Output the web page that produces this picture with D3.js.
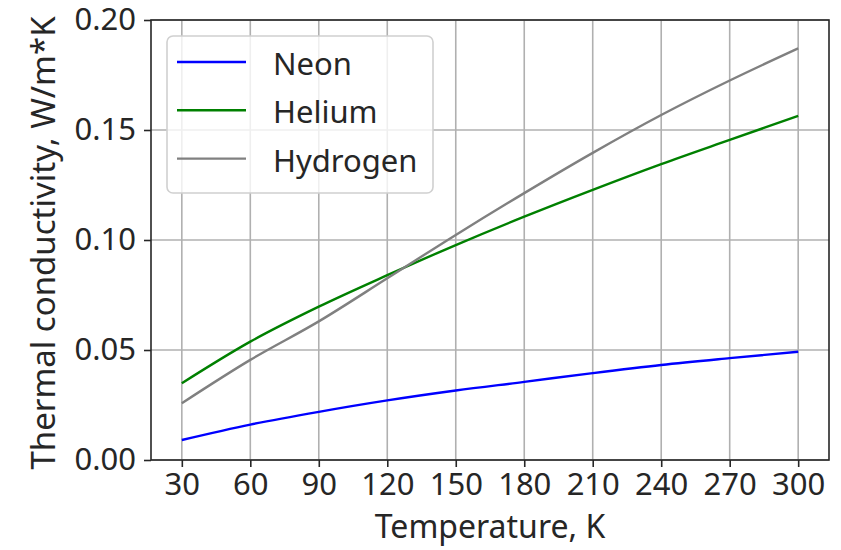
<!DOCTYPE html>
<html>
<head>
<meta charset="utf-8">
<script src="https://cdn.jsdelivr.net/npm/d3@7"></script>
<style>
  body { margin: 0; background: #fff; }
  text { font-family: "Noto Sans", "Open Sans", sans-serif; fill: #262626; }
</style>
</head>
<body>
<div id="chart"></div>
<script>
// data
var temps = [30, 60, 90, 120, 150, 180, 210, 240, 270, 300];
var neon = [0.0091, 0.0161, 0.0219, 0.0271, 0.0316, 0.0355, 0.0395, 0.0432, 0.0463, 0.0492];
var helium = [0.0349, 0.0538, 0.0697, 0.0840, 0.0977, 0.1106, 0.1228, 0.1345, 0.1455, 0.1564];
var hydrogen = [0.0258, 0.0455, 0.0630, 0.0826, 0.1023, 0.1213, 0.1396, 0.1568, 0.1725, 0.1871];
var seriesNames = ["Neon", "Helium", "Hydrogen"];
var xTicks = [30, 60, 90, 120, 150, 180, 210, 240, 270, 300];
var yTicks = [0, 0.05, 0.10, 0.15, 0.20];

var width = 841;
var height = 550;
var plot = { left: 151, right: 829, top: 20, bottom: 460 };
var fontSize = "31px";

var series = [
  { name: seriesNames[0], values: neon, color: "#0000ff" },
  { name: seriesNames[1], values: helium, color: "#008000" },
  { name: seriesNames[2], values: hydrogen, color: "#808080" }
];

var svg = d3.select("#chart").append("svg")
  .attr("width", width)
  .attr("height", height);

// matplotlib style 5% margin on x
var x = d3.scaleLinear().domain([16.5, 313.5]).range([plot.left, plot.right]);
var y = d3.scaleLinear().domain([0, 0.2]).range([plot.bottom, plot.top]);

// grid
svg.append("g").selectAll("line")
  .data(xTicks)
  .enter().append("line")
  .attr("x1", function(d) { return x(d); })
  .attr("x2", function(d) { return x(d); })
  .attr("y1", plot.top).attr("y2", plot.bottom)
  .attr("stroke", "#b0b0b0").attr("stroke-width", 1.6);

svg.append("g").selectAll("line")
  .data(yTicks)
  .enter().append("line")
  .attr("x1", plot.left).attr("x2", plot.right)
  .attr("y1", function(d) { return y(d); })
  .attr("y2", function(d) { return y(d); })
  .attr("stroke", "#b0b0b0").attr("stroke-width", 1.6);

// lines
var line = d3.line()
  .x(function(d, i) { return x(temps[i]); })
  .y(function(d) { return y(d); })
  .curve(d3.curveMonotoneX);

svg.append("g").selectAll("path")
  .data(series)
  .enter().append("path")
  .attr("d", function(d) { return line(d.values); })
  .attr("fill", "none")
  .attr("stroke", function(d) { return d.color; })
  .attr("stroke-width", 2.4);

// axes
var xAxis = d3.axisBottom(x).tickValues(xTicks).tickSize(7).tickPadding(6).tickFormat(d3.format("d"));
var yAxis = d3.axisLeft(y).tickValues(yTicks).tickSize(7).tickPadding(8).tickFormat(d3.format(".2f"));

var gx = svg.append("g").attr("transform", "translate(0," + plot.bottom + ")").call(xAxis);
var gy = svg.append("g").attr("transform", "translate(" + plot.left + ",0)").call(yAxis);
[gx, gy].forEach(function(g) {
  g.select(".domain").remove();
  g.selectAll("line").attr("stroke", "#262626").attr("stroke-width", 1.6);
  g.selectAll("text").style("font-family", "'Noto Sans', sans-serif")
    .style("font-size", fontSize).attr("fill", "#262626");
});

// frame
svg.append("rect")
  .attr("x", plot.left).attr("y", plot.top)
  .attr("width", plot.right - plot.left).attr("height", plot.bottom - plot.top)
  .attr("fill", "none").attr("stroke", "#262626").attr("stroke-width", 1.6);

// axis labels
svg.append("text")
  .attr("x", (plot.left + plot.right) / 2).attr("y", 538)
  .attr("text-anchor", "middle")
  .style("font-size", "32px")
  .text("Temperature, K");

svg.append("text")
  .attr("transform", "translate(55,243)rotate(-90)")
  .attr("text-anchor", "middle")
  .style("font-size", "33px")
  .text("Thermal conductivity, W/m*K");

// legend
var legend = svg.append("g");
legend.append("rect")
  .attr("x", 167).attr("y", 36)
  .attr("width", 266).attr("height", 157)
  .attr("rx", 6)
  .attr("fill", "#fff").attr("fill-opacity", 0.8)
  .attr("stroke", "#d0d0d0").attr("stroke-width", 1.6);

var items = legend.selectAll("g.item")
  .data(series)
  .enter().append("g")
  .attr("class", "item")
  .attr("transform", function(d, i) { return "translate(0," + (62 + i * 48.3) + ")"; });

items.append("line")
  .attr("x1", 177).attr("x2", 246)
  .attr("stroke", function(d) { return d.color; })
  .attr("stroke-width", 2.4);

items.append("text")
  .attr("x", 273).attr("y", 13)
  .style("font-size", fontSize)
  .text(function(d) { return d.name; });
</script>
</body>
</html>
